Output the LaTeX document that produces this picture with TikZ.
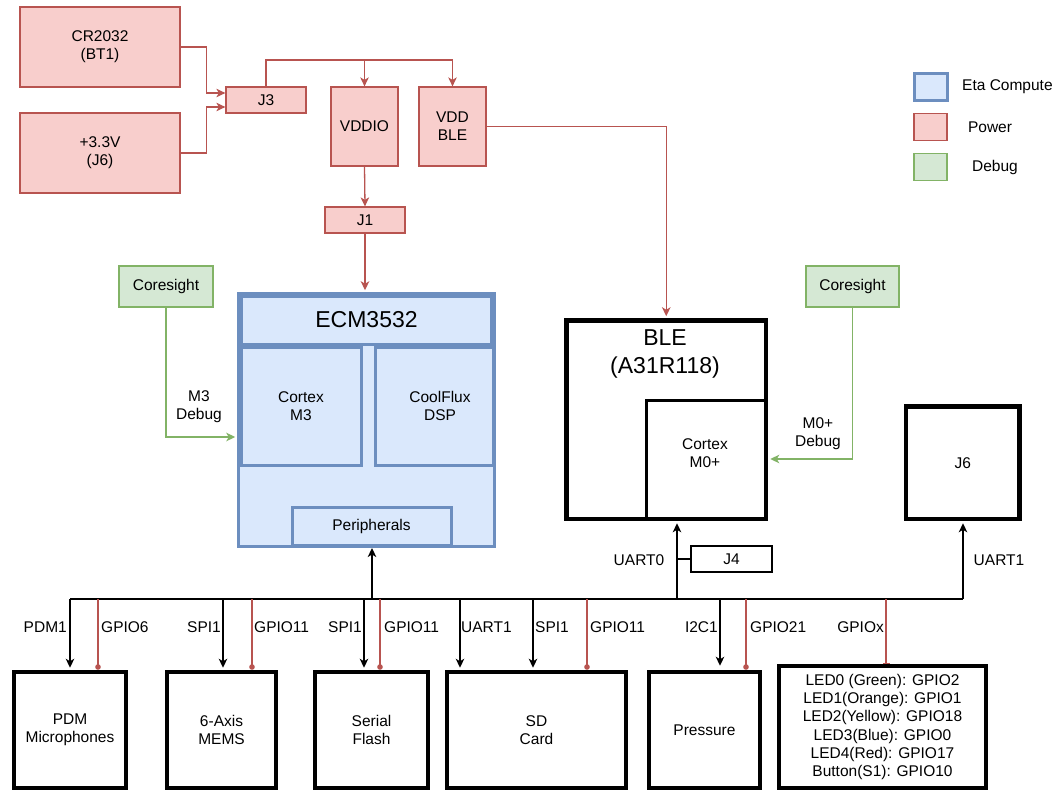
\documentclass[tikz,border=0pt]{standalone}
\usepackage{fontspec}
\setmainfont{Liberation Sans}
\usetikzlibrary{arrows.meta}
\definecolor{pstroke}{HTML}{B85450}
\definecolor{pfill}{HTML}{F8CECC}
\definecolor{gstroke}{HTML}{82B366}
\definecolor{gfill}{HTML}{D5E8D4}
\definecolor{bstroke}{HTML}{6C8EBF}
\definecolor{bfill}{HTML}{DAE8FC}
\begin{document}
\begin{tikzpicture}[x=1pt,y=-1pt,
  txtf/.style={font=\fontsize{15.5}{18.3}\selectfont},
  bigf/.style={font=\fontsize{23}{28}\selectfont},
  txt/.style={txtf, inner sep=0pt, align=center},
  bigtxt/.style={bigf, inner sep=0pt, align=center},
  sz/.style 2 args={minimum width=#1pt, minimum height=#2pt},
  pbox/.style={draw=pstroke, fill=pfill, line width=1.25pt, inner sep=0pt, align=center, txtf},
  gbox/.style={draw=gstroke, fill=gfill, line width=1.25pt, inner sep=0pt, align=center, txtf},
  bbox/.style={draw=bstroke, fill=bfill, line width=3pt, inner sep=0pt, align=center, txtf},
  kbox/.style={draw=black, fill=white, line width=4.5pt, inner sep=0pt, align=center, txtf},
  tip/.style={-{Stealth[length=9pt,width=8.5pt,inset=2.5pt]}},
  pline/.style={draw=pstroke, line width=1.3pt},
  parr/.style={pline, tip},
  garr/.style={draw=gstroke, line width=1.3pt, tip},
  kline/.style={draw=black, line width=1.3pt},
  karr/.style={kline, tip},
  rdot/.style={draw=pstroke, line width=1.1pt, -{Circle[length=5.5pt]}},
  rbar/.style={draw=pstroke, line width=1.1pt, -{Bar[width=7pt]}}
]
\useasboundingbox (0,0) rectangle (1057,792);
\fill[white] (0,0) rectangle (1057,792);

% ---------- power ----------
\node[pbox, sz={160}{80}] (cr) at (100,47) {CR2032\\(BT1)};
\node[pbox, sz={160}{80}] (v33) at (100,153) {+3.3V\\(J6)};
\node[pbox, sz={80}{26}] (j3) at (266,100) {J3};
\node[pbox, sz={67}{79}] (vddio) at (364.5,126.5) {VDDIO};
\node[pbox, sz={67}{79}] (vddble) at (452.5,126.5) {VDD\\BLE};
\node[pbox, sz={80}{26}] (j1) at (365,220) {J1};

% ---------- legend ----------
\node[bbox, sz={33}{27}] (lg1) at (930.5,87) {};
\node[pbox, sz={33}{27}] (lg2) at (930.5,127) {};
\node[gbox, sz={33}{27}] (lg3) at (930.5,167) {};
\node[txt, anchor=west] (lg1t) at (962,87) {Eta Compute};
\node[txt] (lg2t) at (990,127) {Power};
\node[txt] (lg3t) at (995,167) {Debug};

% ---------- ECM3532 ----------
\node[bbox, line width=3.5pt, sz={256}{253}] (ecm) at (366.5,420) {};
\node[bbox, bigf, sz={250}{48}] (ecmt) at (366.5,320) {ECM3532};
\node[bbox, sz={120}{118}] (cm3) at (301,406) {Cortex\\M3};
\node[bbox, sz={118}{118}] (cfd) at (434,406) {};
\node[txt] (cfdt) at (440,406) {CoolFlux\\DSP};
\node[bbox, sz={159}{38}] (per) at (371.5,526) {Peripherals};

% ---------- debug ----------
\node[gbox, sz={94}{41}] (cs1) at (166,286.5) {Coresight};
\node[gbox, sz={93}{41}] (cs2) at (852.5,286.5) {Coresight};
\node[txt] (m3d) at (199,407) {M3\\Debug};
\node[txt] (m0d) at (818,433.5) {M0+\\Debug};

% ---------- BLE ----------
\node[kbox, sz={199.5}{198.5}] (ble) at (666.25,419.75) {};
\node[bigtxt] (blet) at (665,354) {BLE\\(A31R118)};
\node[kbox, line width=3.5pt, sz={119.5}{118.5}] (cm0) at (706.25,459.75) {};
\node[txt] (cm0t) at (705,453) {Cortex\\M0+};

\node[kbox, sz={113.5}{112.5}] (j6) at (962.75,462.75) {J6};
\node[draw=black, fill=white, line width=1.2pt, inner sep=0pt, txtf, sz={81}{26}] (j4) at (731.5,559) {J4};

% ---------- peripherals ----------
\node[kbox, sz={112}{116}] (pdm) at (70,730) {PDM\\Microphones};
\node[kbox, sz={109}{116}] (mems) at (221.5,730) {6-Axis\\MEMS};
\node[kbox, sz={113}{116}] (flash) at (371.5,730) {Serial\\Flash};
\node[kbox, sz={179}{116}] (sd) at (536.5,730) {SD\\Card};
\node[kbox, sz={111}{116}] (press) at (704.5,730) {Pressure};
\node[kbox, sz={207}{122}] (led) at (882.5,727) {LED0 (Green): GPIO2\\LED1(Orange): GPIO1\\LED2(Yellow): GPIO18\\LED3(Blue): GPIO0\\LED4(Red): GPIO17\\Button(S1): GPIO10};

% ---------- power connectors ----------
\draw[parr] (cr.east) -- ++(26,0) |- ([yshift=7pt]j3.west);
\draw[parr] (v33.east) -- ++(26,0) |- ([yshift=-7pt]j3.west);
\draw[parr] (j3.north) -- (j3.north |- 0,60) -| (vddble.north);
\draw[parr] (vddio.north |- 0,60) -- (vddio.north);
\draw[parr] (vddio.south) -- (j1.north);
\draw[parr, shorten >=1.5pt] (j1.south) -- (j1.south |- ecm.north);
\draw[parr, shorten >=2pt] (vddble.east) -| (ble.north);

% ---------- debug connectors ----------
\draw[garr, shorten >=1.5pt] (cs1.south) |- (ecm.west |- 0,437);
\draw[garr, shorten >=2pt] (cs2.south) |- (ble.east |- 0,459);

% ---------- bus ----------
\coordinate (bL) at (70,599);
\coordinate (bR) at (963,599);
\draw[kline] (bL) -- (bR);
\coordinate (tpdm) at (70,599);
\coordinate (tg6) at (98,599);
\coordinate (tspa) at (223,599);
\coordinate (tg11a) at (252,599);
\coordinate (tper) at (372,599);
\coordinate (tspb) at (364,599);
\coordinate (tg11b) at (380,599);
\coordinate (tuart) at (460,599);
\coordinate (tspc) at (533,599);
\coordinate (tg11c) at (587,599);
\coordinate (tble) at (677,599);
\coordinate (ti2c) at (720,599);
\coordinate (tg21) at (746,599);
\coordinate (tgx) at (886,599);
\coordinate (tj6) at (963,599);
\coordinate (tj4) at (677,559);

\draw[karr, shorten >=2pt] (tpdm) -- (tpdm |- pdm.north);
\draw[rdot] (tg6) -- (tg6 |- pdm.north);
\draw[karr, shorten >=2pt] (tspa) -- (tspa |- mems.north);
\draw[rdot] (tg11a) -- (tg11a |- mems.north);
\draw[karr, shorten >=2pt] (tspb) -- (tspb |- flash.north);
\draw[rdot] (tg11b) -- (tg11b |- flash.north);
\draw[karr, shorten >=1.5pt] (tper) -- (tper |- per.south);
\draw[karr, shorten >=2pt] (tuart) -- (tuart |- sd.north);
\draw[karr, shorten >=2pt] (tspc) -- (tspc |- sd.north);
\draw[rdot] (tg11c) -- (tg11c |- sd.north);
\draw[karr, shorten >=2pt] (tble) -- (tble |- ble.south);
\draw[kline] (tj4) -- (j4.west);
\draw[karr, shorten >=4pt] (ti2c) -- (ti2c |- press.north);
\draw[rdot] (tg21) -- (tg21 |- press.north);
\draw[rbar] (tgx) -- (tgx |- led.north);
\draw[karr, shorten >=2pt] (tj6) -- (tj6 |- j6.south);

% ---------- bus labels ----------
\node[txt, anchor=east] (l1) at (67,627) {PDM1};
\node[txt, anchor=west] (l2) at (101,627) {GPIO6};
\node[txt, anchor=east] (l3) at (221,627) {SPI1};
\node[txt, anchor=west] (l4) at (254,627) {GPIO11};
\node[txt, anchor=east] (l5) at (362,627) {SPI1};
\node[txt, anchor=west] (l6) at (384,627) {GPIO11};
\node[txt, anchor=west] (l7) at (461,627) {UART1};
\node[txt, anchor=west] (l8) at (535,627) {SPI1};
\node[txt, anchor=west] (l9) at (590,627) {GPIO11};
\node[txt, anchor=east] (l10) at (718,627) {I2C1};
\node[txt, anchor=west] (l11) at (750,627) {GPIO21};
\node[txt, anchor=east] (l12) at (884,627) {GPIOx};
\node[txt] (l13) at (639,560) {UART0};
\node[txt] (l14) at (999,560) {UART1};
\end{tikzpicture}
\end{document}
